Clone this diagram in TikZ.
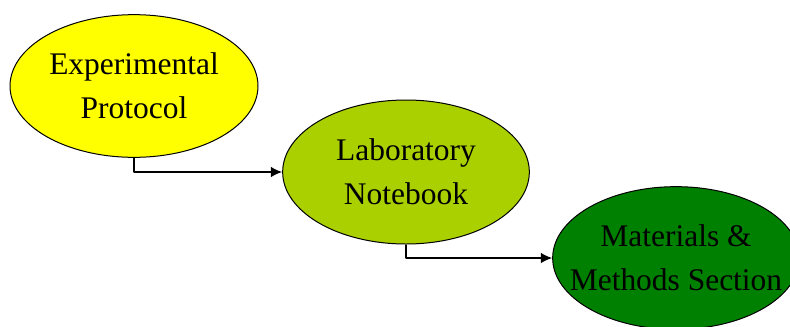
\documentclass[tikz,border=0pt]{standalone}
\usepackage{fontspec}
\setmainfont{Liberation Serif}
\usetikzlibrary{shapes.geometric,arrows.meta}
\definecolor{protoyellow}{RGB}{255,255,0}
\definecolor{noteyellowgreen}{RGB}{170,208,0}
\definecolor{methodsgreen}{RGB}{0,128,0}
% a line that does not widen its ellipse
\newcommand{\stageline}[1]{\makebox[0pt]{#1}}
\begin{document}
\begin{tikzpicture}[x=0.75pt,y=-0.75pt,line join=round,>={Latex[length=8.5pt,width=8pt]},
    stage/.style={ellipse,draw=black,line width=0.75pt,inner sep=0pt,align=center,
      font=\fontsize{23.6}{33}\selectfont},
    link/.style={->,line width=1.1pt}]
  \useasboundingbox (0,0) rectangle (790,326);
  \clip (0,0) rectangle (790,326);
  % stages
  \node[stage,fill=protoyellow,minimum width=186pt,minimum height=107pt] (proto) at (134,86)
    {\stageline{Experimental}\\\stageline{Protocol}};
  \node[stage,fill=noteyellowgreen,minimum width=185pt,minimum height=108pt] (notebook) at (406,172)
    {\stageline{Laboratory}\\\stageline{Notebook}};
  \node[stage,fill=methodsgreen,minimum width=185pt,minimum height=107pt] (methods) at (676,258)
    {\stageline{Materials \&}\\\stageline{Methods Section}};
  % links
  \draw [link] (proto.south) |- (notebook.west);
  \draw [link] (notebook.south) |- (methods.west);
\end{tikzpicture}
\end{document}
